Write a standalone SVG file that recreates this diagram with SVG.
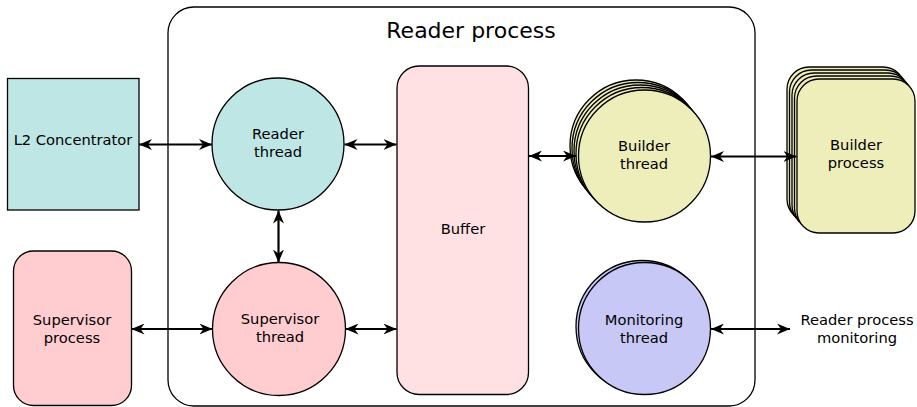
<svg xmlns="http://www.w3.org/2000/svg" width="917" height="407" viewBox="0 0 917 407">
  <style>
    .lbl { font-family: "DejaVu Sans", "Liberation Sans", sans-serif; font-size: 14.7px; fill: #000; text-anchor: middle; }
    .title { font-family: "DejaVu Sans", "Liberation Sans", sans-serif; font-size: 22px; fill: #000; text-anchor: middle; }
    .shape { stroke: #000; stroke-width: 1.3; }
    .conn { stroke: #000; stroke-width: 2.2; fill: none; marker-start: url(#arrow); marker-end: url(#arrow); }
  </style>
  <defs>
    <!-- notched arrowhead shared by every two-way connector -->
    <marker id="arrow" viewBox="0 0 13 11" refX="13" refY="5.5" markerUnits="userSpaceOnUse" markerWidth="13" markerHeight="11" orient="auto-start-reverse">
      <path d="M0,0 L13,5.5 L0,11 L4,5.5 Z" fill="#000"/>
    </marker>
  </defs>
  <rect width="917" height="407" fill="#fff"/>

  <!-- Reader process container -->
  <g id="reader-process">
    <rect x="168" y="7" width="587" height="399" rx="26" ry="26" fill="none" stroke="#000" stroke-width="1.3"/>
    <text class="title" x="471" y="38">Reader process</text>
  </g>

  <g id="l2-concentrator">
    <rect class="shape" x="7.5" y="78.5" width="131.5" height="131.5" fill="#bde6e5"/>
    <text class="lbl" x="73" y="145">L2 Concentrator</text>
  </g>

  <g id="reader-thread">
    <circle class="shape" cx="278" cy="144" r="66" fill="#bde6e5"/>
    <text class="lbl" x="278" y="139">Reader</text>
    <text class="lbl" x="278" y="157">thread</text>
  </g>

  <g id="supervisor-process">
    <rect class="shape" x="13.5" y="251" width="118" height="154.5" rx="20" ry="20" fill="#ffccd0"/>
    <text class="lbl" x="72" y="325">Supervisor</text>
    <text class="lbl" x="72" y="343">process</text>
  </g>

  <g id="supervisor-thread">
    <circle class="shape" cx="279" cy="329" r="66.5" fill="#ffccd0"/>
    <text class="lbl" x="280" y="324">Supervisor</text>
    <text class="lbl" x="280" y="342">thread</text>
  </g>

  <g id="buffer">
    <rect class="shape" x="397" y="66" width="131.5" height="328.5" rx="22" ry="22" fill="#ffe1e4"/>
    <text class="lbl" x="463" y="234">Buffer</text>
  </g>

  <g id="builder-thread">
    <circle class="shape" cx="636" cy="146" r="66" fill="#eeeebb"/>
    <circle class="shape" cx="638" cy="148.5" r="66" fill="#eeeebb"/>
    <circle class="shape" cx="640" cy="151" r="66" fill="#eeeebb"/>
    <circle class="shape" cx="642" cy="153.5" r="66" fill="#eeeebb"/>
    <circle class="shape" cx="644.5" cy="156" r="66" fill="#eeeebb"/>
    <text class="lbl" x="644" y="151">Builder</text>
    <text class="lbl" x="644" y="169">thread</text>
  </g>

  <g id="builder-process">
    <rect class="shape" x="787" y="67" width="118" height="154" rx="22" ry="22" fill="#eeeebb"/>
    <rect class="shape" x="789.5" y="70" width="118" height="154" rx="22" ry="22" fill="#eeeebb"/>
    <rect class="shape" x="792" y="73" width="118" height="154" rx="22" ry="22" fill="#eeeebb"/>
    <rect class="shape" x="794.5" y="76" width="118" height="154" rx="22" ry="22" fill="#eeeebb"/>
    <rect class="shape" x="797" y="79" width="118" height="154" rx="22" ry="22" fill="#eeeebb"/>
    <text class="lbl" x="856" y="150">Builder</text>
    <text class="lbl" x="856" y="168">process</text>
  </g>

  <g id="monitoring-thread">
    <circle class="shape" cx="642" cy="326.5" r="66" fill="#c8c8f7"/>
    <circle class="shape" cx="644.5" cy="328.5" r="66" fill="#c8c8f7"/>
    <text class="lbl" x="644" y="325">Monitoring</text>
    <text class="lbl" x="644" y="343">thread</text>
  </g>

  <g id="monitoring-label">
    <text class="lbl" x="857" y="325">Reader process</text>
    <text class="lbl" x="857" y="343">monitoring</text>
  </g>

  <!-- two-way connectors -->
  <g id="connectors">
    <line class="conn" x1="139" y1="144.5" x2="212" y2="144.5"/>
    <line class="conn" x1="344.5" y1="144.5" x2="396.5" y2="144.5"/>
    <line class="conn" x1="278.5" y1="210.5" x2="278.5" y2="262.5"/>
    <line class="conn" x1="131.5" y1="329" x2="212.5" y2="329"/>
    <line class="conn" x1="345.5" y1="329" x2="396.5" y2="329"/>
    <line class="conn" x1="529" y1="156" x2="576" y2="156"/>
    <line class="conn" x1="711" y1="156.5" x2="796.5" y2="156.5"/>
    <line class="conn" x1="711" y1="329" x2="790" y2="329"/>
  </g>
</svg>
